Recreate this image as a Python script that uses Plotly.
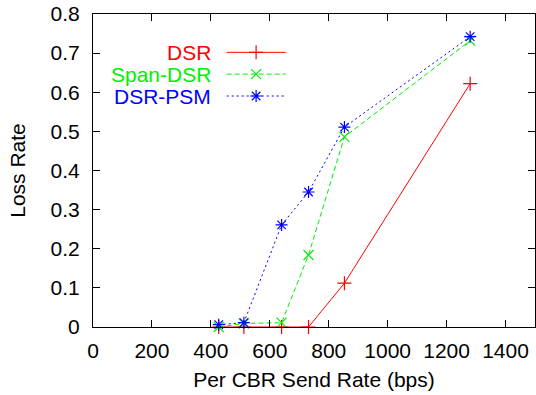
import plotly.graph_objects as go

# ---- data ----
send_rate = [426.7, 512, 640, 731.4, 853.3, 1280]
dsr = [0.0, 0.0, 0.0, 0.0, 0.112, 0.622]
span_dsr = [0.0, 0.009, 0.011, 0.184, 0.486, 0.732]
dsr_psm = [0.006, 0.011, 0.261, 0.345, 0.511, 0.742]
series_names = ["DSR", "Span-DSR", "DSR-PSM"]
x_ticks = [0, 200, 400, 600, 800, 1000, 1200, 1400]
y_ticks = [0, 0.1, 0.2, 0.3, 0.4, 0.5, 0.6, 0.7, 0.8]
y_tick_labels = ["0", "0.1", "0.2", "0.3", "0.4", "0.5", "0.6", "0.7", "0.8"]

colors = ["#ff0000", "#00f000", "#0000ff"]
dashes = ["solid", "5px,3px", "2px,3px"]
symbols = ["cross-thin-open", "x-thin-open", "asterisk-open"]
FONT = "Liberation Sans, Arial, Helvetica, sans-serif"
FS = 21

fig = go.Figure()
for name, ys, c, d, s in zip(series_names, [dsr, span_dsr, dsr_psm], colors, dashes, symbols):
    fig.add_trace(go.Scatter(
        x=send_rate, y=ys, mode="lines+markers", name=name,
        line=dict(color=c, width=1, dash=d),
        marker=dict(symbol=s, size=10, line=dict(color=c, width=1.2), color=c),
        cliponaxis=False, showlegend=False,
    ))

# ---- custom gnuplot-style key (text left, sample right) on overlay axes ----
key_rows_y = [0.8775, 0.808, 0.738]
key_text_x = 0.2708
key_line_x = [0.3025, 0.436]
key_marker_x = 0.369
for name, c, d, s, ky in zip(series_names, colors, dashes, symbols, key_rows_y):
    fig.add_trace(go.Scatter(
        x=key_line_x, y=[ky, ky], mode="lines", xaxis="x2", yaxis="y2",
        line=dict(color=c, width=1, dash=d), showlegend=False, hoverinfo="skip"))
    fig.add_trace(go.Scatter(
        x=[key_marker_x], y=[ky], mode="markers", xaxis="x2", yaxis="y2",
        marker=dict(symbol=s, size=10, line=dict(color=c, width=1.2), color=c),
        showlegend=False, hoverinfo="skip"))
    fig.add_annotation(x=key_text_x, y=ky, xref="paper", yref="paper",
                       text=name, showarrow=False, xanchor="right", yanchor="middle",
                       font=dict(family=FONT, size=FS, color=c))

axis_common = dict(
    showline=True, linecolor="black", linewidth=1, mirror="ticks",
    ticks="inside", ticklen=7, tickwidth=1, tickcolor="black",
    showgrid=False, zeroline=False,
    tickfont=dict(family=FONT, size=FS, color="black"),
)

fig.update_layout(
    width=536, height=395,
    margin=dict(l=93, r=1, t=14, b=68, autoexpand=False),
    paper_bgcolor="white", plot_bgcolor="white",
    xaxis=dict(range=[0, 1500], tickvals=x_ticks, ticklabelstandoff=5,
               title=dict(text="Per CBR Send Rate (bps)", standoff=11,
                          font=dict(family=FONT, size=FS, color="black")),
               **axis_common),
    yaxis=dict(range=[0, 0.8], tickvals=y_ticks, ticktext=y_tick_labels,
               ticklabelstandoff=8,
               title=dict(text="Loss Rate", standoff=19,
                          font=dict(family=FONT, size=FS, color="black")),
               **axis_common),
    xaxis2=dict(overlaying="x", range=[0, 1], visible=False, anchor="y2"),
    yaxis2=dict(overlaying="y", range=[0, 1], visible=False, anchor="x2"),
)

fig.write_html(
    "out.html",
    config={"displayModeBar": False},
    post_script="document.body.style.margin='0';document.body.style.overflow='hidden';",
)
